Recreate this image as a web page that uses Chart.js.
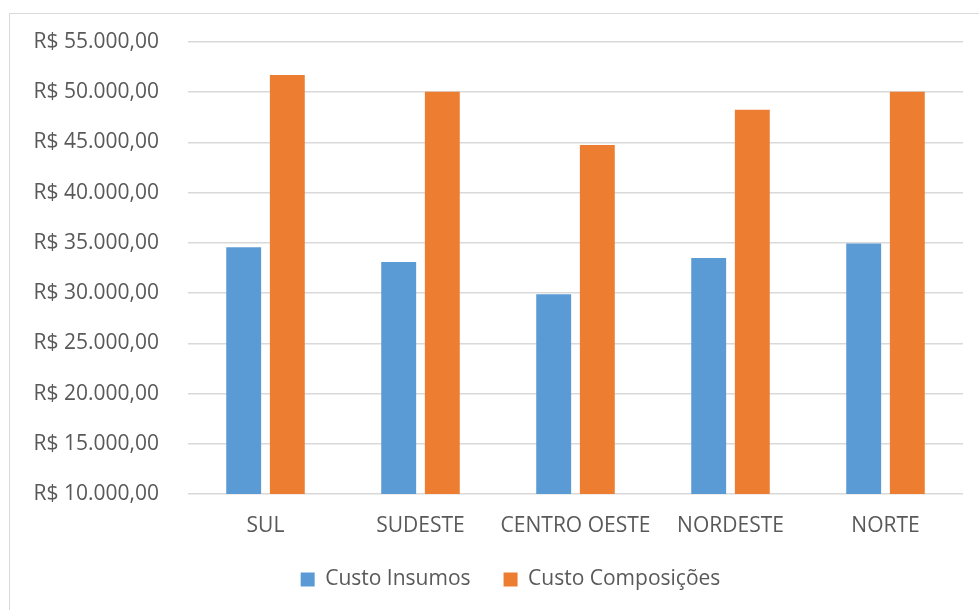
<!DOCTYPE html>
<html>
<head>
<meta charset="utf-8">
<script src="https://cdn.jsdelivr.net/npm/chart.js@4"></script>
<style>
  html, body { margin: 0; padding: 0; background: #fff; overflow: hidden; }
  #wrap { position: relative; width: 979px; height: 610px; }
  #frame { position: absolute; left: 9px; top: 13px; width: 1200px; height: 1000px; border: 1px solid #d9d9d9; box-sizing: border-box; }
  #chart { position: absolute; left: 0; top: 0; }
</style>
</head>
<body>
<div id="wrap">
  <div id="frame"></div>
  <canvas id="chart" width="979" height="610"></canvas>
</div>
<script>
'use strict';

const regions = ['SUL', 'SUDESTE', 'CENTRO OESTE', 'NORDESTE', 'NORTE'];
const custoInsumos = [34570, 33100, 29880, 33500, 34930];
const custoComposicoes = [51720, 50040, 44750, 48260, 50040];
const yMin = 10000;
const yMax = 55000;
const yStep = 5000;

const TEXT = '#595959';
const GRID = '#d9d9d9';
const FONT = { family: '"Open Sans", sans-serif', size: 21 };

function brl(v) {
  const int = Math.round(v).toString().replace(/\B(?=(\d{3})+(?!\d))/g, '.');
  return `R$ ${int},00`;
}

// legend spacing between items is wide, but the block itself is short,
// and it sits a bit right of the page centre
const legendFit = {
  id: 'legendFit',
  beforeInit(chart) {
    const fit = chart.legend.fit;
    chart.legend.fit = function () { fit.call(this); this.height = 74; };
  },
  afterLayout(chart) {
    chart.legend.left += 29;
    chart.legend.right += 29;
  }
};

new Chart(document.getElementById('chart').getContext('2d'), {
  type: 'bar',
  data: {
    labels: regions,
    datasets: [
      { label: 'Custo Insumos', data: custoInsumos, backgroundColor: '#5b9bd5' },
      { label: 'Custo Composições', data: custoComposicoes, backgroundColor: '#ed7d31' }
    ]
  },
  options: {
    responsive: false,
    animation: false,
    devicePixelRatio: 1,
    categoryPercentage: 0.563,
    barPercentage: 0.8,
    layout: { padding: { left: 0, right: 16, top: 42, bottom: 0 } },
    scales: {
      x: {
        grid: { display: false, drawTicks: false },
        border: { display: false },
        ticks: { color: TEXT, font: FONT, padding: 19, maxRotation: 0 },
        afterFit(s) { s.height = 42; }
      },
      y: {
        min: yMin,
        max: yMax,
        grid: { color: GRID, lineWidth: 1.5, drawTicks: false },
        border: { display: false },
        ticks: { stepSize: yStep, color: TEXT, font: FONT, padding: 29, callback: (v) => brl(v) },
        afterFit(s) { s.width = 188; }
      }
    },
    plugins: {
      legend: {
        position: 'bottom',
        labels: { color: TEXT, font: FONT, boxWidth: 14, boxHeight: 14, padding: 33 }
      },
      tooltip: { enabled: false }
    }
  },
  plugins: [legendFit]
});
</script>
</body>
</html>
